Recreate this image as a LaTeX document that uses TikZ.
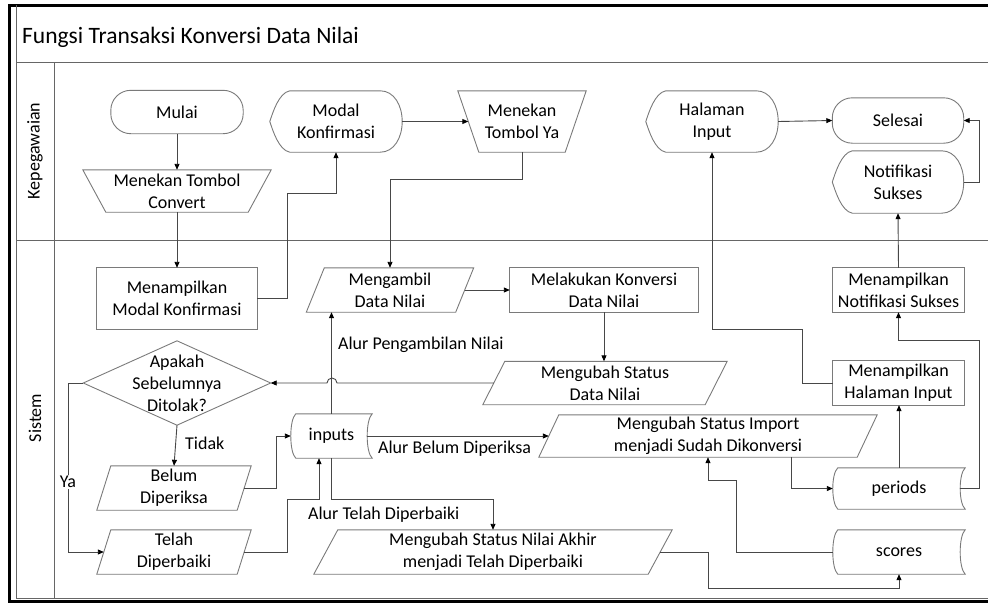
\documentclass[tikz,border=0pt]{standalone}
\usepackage{fontspec}
\setmainfont{Carlito}
\usetikzlibrary{arrows.meta,calc}

\tikzset{
  shp/.style={draw=black!52, line width=0.9pt},
  con/.style={draw=black!72, line width=0.9pt},
  arr/.style={con, -{Triangle[length=6pt,width=5pt,color=black]}},
  box/.style={inner sep=0pt, align=center, font=\fontsize{18}{22}\selectfont},
  lbl/.style={inner sep=1pt, font=\fontsize{18}{22}\selectfont},
  pool/.style={draw=black!60, line width=0.9pt},
}

% outlines drawn around plain (invisible) rectangle nodes
\newcommand\outlinerect[1]{\draw[shp] (#1.north west) rectangle (#1.south east);}
\newcommand\outlineterm[1]{\draw[shp, rounded corners=20pt] (#1.north west) rectangle (#1.south east);}
\newcommand\outlinepara[2]{\draw[shp] ([xshift=#2]#1.north west) -- ([xshift=#2]#1.north east)
  -- ([xshift=-#2]#1.south east) -- ([xshift=-#2]#1.south west) -- cycle;}
\newcommand\outlinetrap[2]{\draw[shp] ([xshift=-#2]#1.north west) -- ([xshift=#2]#1.north east)
  -- ([xshift=-#2]#1.south east) -- ([xshift=#2]#1.south west) -- cycle;}
\newcommand\outlinediamond[1]{\draw[shp] (#1.north) -- (#1.east) -- (#1.south) -- (#1.west) -- cycle;}
% display symbol: pointed left end, flat top and bottom, rounded right end
\newcommand\outlinedisplay[1]{\draw[shp] ([xshift=20pt]#1.north west) -- ([xshift=-22pt]#1.north east)
  .. controls ([xshift=-8pt]#1.north east) and ([yshift=16pt]#1.east) .. (#1.east)
  .. controls ([yshift=-16pt]#1.east) and ([xshift=-8pt]#1.south east) .. ([xshift=-22pt]#1.south east)
  -- ([xshift=20pt]#1.south west)
  .. controls ([xshift=9pt,yshift=2pt]#1.south west) and ([xshift=3pt,yshift=-9pt]#1.west) .. (#1.west)
  .. controls ([xshift=3pt,yshift=9pt]#1.west) and ([xshift=9pt,yshift=-2pt]#1.north west) .. ([xshift=20pt]#1.north west)
  -- cycle;}
% stored data symbol: bulging left end, hollowed right end
\newcommand\outlinestored[1]{\draw[shp] ([xshift=5pt]#1.north west) -- (#1.north east)
  .. controls ([xshift=-6.7pt,yshift=-6pt]#1.north east) and ([xshift=-6.7pt,yshift=6pt]#1.south east) .. (#1.south east)
  -- ([xshift=5pt]#1.south west)
  .. controls ([xshift=-1.7pt,yshift=6pt]#1.south west) and ([xshift=-1.7pt,yshift=-6pt]#1.north west) .. ([xshift=5pt]#1.north west)
  -- cycle;}

\begin{document}
\begin{tikzpicture}[x=1pt,y=-1pt]
\useasboundingbox (0,0) rectangle (988,603);

% pool frame and lanes
\begin{scope}
  \clip (0,0) rectangle (988,603);
  \draw[black, line width=3pt] (9,5) rectangle (1000,601);
  \draw[pool] (16,5) -- (16,598) -- (1000,598);
  \draw[pool] (16,62) -- (1000,62);
  \draw[pool] (16,240) -- (1000,240);
  \draw[pool] (54,62) -- (54,598);
\end{scope}
\node[anchor=base west, inner sep=0pt, font=\fontsize{23.5}{28}\selectfont] (title) at (22,43) {Fungsi Transaksi Konversi Data Nilai};
\node[lbl, rotate=90] (lanek) at (35,151) {Kepegawaian};
\node[lbl, rotate=90] (lanes) at (35,418) {Sistem};

% Kepegawaian lane
\node[box, minimum width=132pt, minimum height=43pt] (mulai) at (177,112) {Mulai};
\outlineterm{mulai}
\node[box, minimum width=165pt, minimum height=42pt] (convert) at (177,191) {Menekan Tombol\\Convert};
\outlinetrap{convert}{11.5pt}
\node[box, minimum width=132pt, minimum height=61pt] (modalk) at (336,121.5) {Modal\\Konfirmasi};
\outlinedisplay{modalk}
\node[box, minimum width=107pt, minimum height=61pt] (tombolya) at (522,121.5) {Menekan\\Tombol Ya};
\outlinetrap{tombolya}{10.5pt}
\node[box, minimum width=132pt, minimum height=61pt] (halin) at (712,121.5) {Halaman\\Input};
\outlinedisplay{halin}
\node[box, minimum width=131pt, minimum height=45pt] (selesai) at (898,120.5) {Selesai};
\outlineterm{selesai}
\node[box, minimum width=131pt, minimum height=62pt] (notifs) at (898,182) {Notifikasi\\Sukses};
\outlinedisplay{notifs}

% Sistem lane
\node[box, minimum width=160pt, minimum height=61pt] (modalr) at (177,298.5) {Menampilkan\\Modal Konfirmasi};
\outlinerect{modalr}
\node[box, minimum width=149pt, minimum height=44pt] (ambil) at (390,290) {Mengambil\\Data Nilai};
\outlinepara{ambil}{9pt}
\node[box, minimum width=188pt, minimum height=44pt] (konv) at (604,290) {Melakukan Konversi\\Data Nilai};
\outlinerect{konv}
\node[box, minimum width=222pt, minimum height=43pt] (statusdn) at (605,383) {Mengubah Status\\Data Nilai};
\outlinepara{statusdn}{11pt}
\node[box, minimum width=187pt, minimum height=84pt] (dec) at (177,383) {Apakah\\Sebelumnya\\Ditolak?};
\outlinediamond{dec}
\node[box, minimum width=140pt, minimum height=44pt] (belum) at (174,488) {Belum\\Diperiksa};
\outlinepara{belum}{7pt}
\node[box, minimum width=140pt, minimum height=44pt] (telah) at (174,552) {Telah\\Diperbaiki};
\outlinepara{telah}{7pt}
\node[box, minimum width=81pt, minimum height=44pt] (inputs) at (331.5,436) {inputs};
\outlinestored{inputs}
\node[box, minimum width=318pt, minimum height=42pt] (import) at (708,436) {Mengubah Status Import\\menjadi Sudah Dikonversi};
\outlinepara{import}{10pt}
\node[box, minimum width=334pt, minimum height=44pt] (akhir) at (493,552) {Mengubah Status Nilai Akhir\\menjadi Telah Diperbaiki};
\outlinepara{akhir}{12pt}
\node[box, minimum width=132pt, minimum height=41pt] (periods) at (899,488.5) {periods};
\outlinestored{periods}
\node[box, minimum width=132pt, minimum height=44pt] (scores) at (899,552) {scores};
\outlinestored{scores}
\node[box, minimum width=131pt, minimum height=44pt] (halr) at (898.5,383) {Menampilkan\\Halaman Input};
\outlinerect{halr}
\node[box, minimum width=131pt, minimum height=44pt] (notifr) at (898.5,290) {Menampilkan\\Notifikasi Sukses};
\outlinerect{notifr}

% connectors
\draw[arr] (mulai) -- (convert);
\draw[arr] (convert) -- (modalr);
\draw[arr] (modalr.east) -| (287,193) -| (modalk.south);
\draw[arr] (modalk.east) -- (tombolya.west);
\draw[arr] (tombolya.south) -- ++(0,27) -| (ambil.north);
\draw[arr] (ambil.east) -- (konv.west);
\draw[arr] (konv.south) -- (konv.south |- statusdn.north);
\draw[arr] (statusdn.west) -- (337,383) arc[start angle=0, end angle=180, radius=5pt] -- (dec.east);
\draw[arr] (dec.west) -- ++(-15,0) |- (telah.west);
\node[lbl, fill=white] (lya) at (68,482) {Ya};
\draw[arr] (dec.south) -- (belum.north);
\node[lbl, anchor=west] (ltidak) at (184,443) {Tidak};
\draw[arr] (belum.east) -| (276,436) -- (inputs.west);
\draw[arr] (telah.east) -| (287,499) -| ([xshift=-12.5pt]inputs.south);
\draw[arr] (inputs.north) -- (inputs.north |- ambil.south);
\node[lbl, anchor=west] (lpeng) at (337,345) {Alur Pengambilan Nilai};
\draw[arr] ([xshift=-5pt]inputs.east) -- (import.west);
\node[lbl, anchor=west] (lbelum) at (377,449) {Alur Belum Diperiksa};
\draw[arr] (inputs.south) -- (331.5,499) -| (akhir.north);
\node[lbl, anchor=west] (ltelah) at (307,515) {Alur Telah Diperbaiki};
\draw[arr] ([xshift=83pt]import.south) |- (periods.west);
\draw[arr] (scores.west) -| (736,480) -| (import.south);
\draw[arr] (akhir.east) -| (708,588) -| (scores.south);
\draw[arr] (periods.north) -- (periods.north |- halr.south);
\draw[arr] ([xshift=-5pt]periods.east) -| (979,340) -| (notifr.south);
\draw[arr] (notifr.north) -- (notifs.south);
\draw[arr] (halr.west) -| (802,329) -| (halin.south);
\draw[arr] (notifs.east) -- ++(16,0) |- (selesai.east);
\draw[arr] (halin.east) -- (selesai.west);
\end{tikzpicture}
\end{document}
